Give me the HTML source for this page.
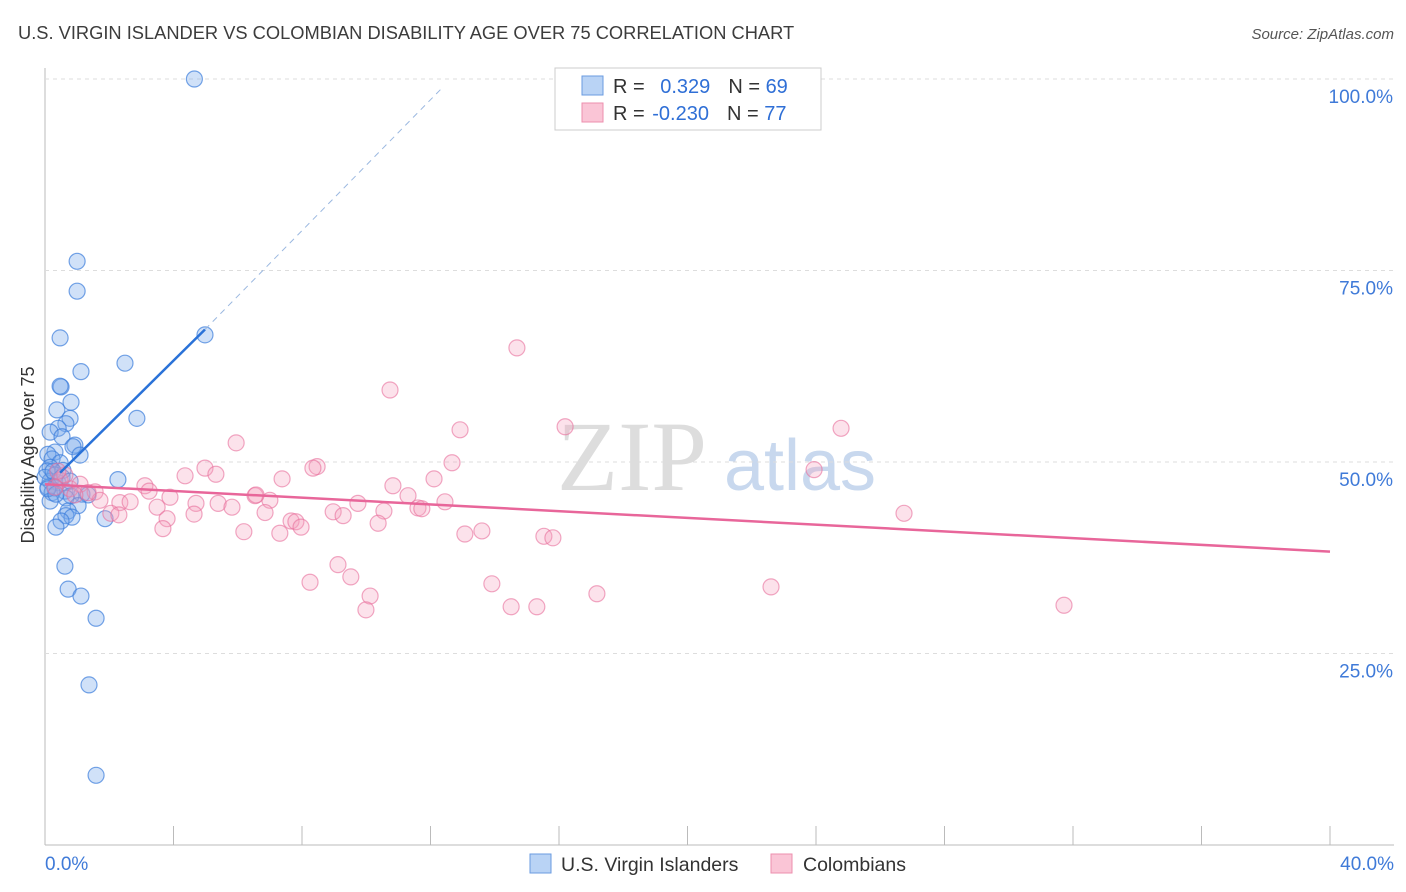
<!DOCTYPE html>
<html><head><meta charset="utf-8"><style>
body{margin:0;background:#fff;font-family:"Liberation Sans",sans-serif;}
#wrap{position:relative;width:1406px;height:892px;overflow:hidden;}
</style></head><body>
<div id="wrap">
<svg id="svg" width="1406" height="892" xmlns="http://www.w3.org/2000/svg">
<text x="18" y="39" font-size="18.3" fill="#3c3c3c">U.S. VIRGIN ISLANDER VS COLOMBIAN DISABILITY AGE OVER 75 CORRELATION CHART</text>
<text x="1394" y="39" font-size="15" fill="#555" text-anchor="end" font-style="italic">Source: ZipAtlas.com</text>
<text x="632" y="490" font-size="100" fill="#ddd" text-anchor="middle" font-family="Liberation Serif,serif">ZIP</text>
<text x="800" y="490" font-size="72" fill="#c8d8ee" text-anchor="middle">atlas</text>
<text transform="translate(34,455) rotate(-90)" font-size="18" fill="#333" text-anchor="middle">Disability Age Over 75</text>
<g id="grid"></g><g id="pts"></g><g id="lines"></g>
<g>
<rect x="555" y="68" width="266" height="62" fill="#fff" stroke="#ccc"/>
<rect x="582" y="76" width="21" height="19" fill="#b9d3f5" stroke="#6a9be0"/>
<rect x="582" y="103" width="21" height="19" fill="#fac5d6" stroke="#ec8fae"/>
<text x="613" y="93" font-size="20" fill="#333">R = <tspan fill="#2f6fd6" dx="10">0.329</tspan><tspan fill="#333" dx="18">N = </tspan><tspan fill="#2f6fd6">69</tspan></text>
<text x="613" y="120" font-size="20" fill="#333">R = <tspan fill="#2f6fd6" dx="2">-0.230</tspan><tspan fill="#333" dx="18">N = </tspan><tspan fill="#2f6fd6">77</tspan></text>
</g>
<g>
<rect x="530" y="854" width="21" height="19" fill="#b9d3f5" stroke="#6a9be0"/>
<text x="561" y="871" font-size="19.5" fill="#333">U.S. Virgin Islanders</text>
<rect x="771" y="854" width="21" height="19" fill="#fac5d6" stroke="#ec8fae"/>
<text x="803" y="871" font-size="19.5" fill="#333">Colombians</text>
</g>
</svg>
</div>
<script>
const xTicks=[0,4,8,12,16,20,24,28,32,36,40];
const yTicks=[25,50,75,100];
const blueX=[4.65,1.0,1.0,0.47,4.98,2.49,1.12,0.5,0.47,0.81,0.37,2.86,0.78,0.65,0.41,0.16,0.53,0.93,0.87,0.31,0.09,1.09,0.22,0.47,0.16,0.56,0.06,0.31,2.27,0.16,0.4,0.09,0.31,0.62,0.22,1.15,1.34,0.81,0.65,0.16,1.03,0.72,0.65,0.84,0.5,1.87,0.34,0.62,0.72,1.12,1.59,1.37,1.59,0.0,0.25,0.53,0.09,0.34,0.78];
const blueY=[100,76.2,72.3,66.2,66.6,62.9,61.8,59.8,59.9,57.8,56.8,55.7,55.7,55.0,54.4,53.9,53.3,52.2,52.0,51.3,51.0,50.9,50.4,49.9,49.3,48.9,48.8,48.3,47.7,47.5,47.3,46.7,46.6,46.2,46.0,45.8,45.7,45.6,45.3,44.9,44.3,43.6,43.0,42.8,42.3,42.6,41.5,36.4,33.4,32.5,29.6,20.9,9.1,48.0,48.8,48.0,46.5,45.8,47.5];
const pinkX=[14.69,10.74,16.19,24.78,12.92,5.95,12.67,8.47,8.34,4.98,23.94,4.36,5.32,12.11,10.83,7.38,1.56,3.11,6.54,11.3,3.24,7.0,6.57,12.45,9.74,1.71,2.33,3.89,4.7,5.39,5.82,8.97,10.55,11.61,11.73,9.28,6.85,2.65,3.49,2.05,2.3,4.64,3.8,26.74,7.66,7.81,7.97,10.37,7.31,6.19,3.67,13.07,13.6,15.53,15.81,9.12,9.52,8.25,13.91,10.12,9.99,14.51,15.31,17.18,22.6,31.72,0.47,0.78,1.09,1.34,0.62,0.93,0.31,0.4];
const pinkY=[64.9,59.4,54.6,54.4,54.2,52.5,49.9,49.4,49.2,49.2,49.0,48.2,48.4,47.8,46.9,47.8,46.1,46.9,45.6,45.6,46.2,45.0,45.7,44.8,44.6,45.0,44.7,45.4,44.6,44.6,44.1,43.5,43.6,44.0,43.9,43.0,43.4,44.8,44.1,43.3,43.1,43.2,42.6,43.3,42.3,42.2,41.5,42.0,40.7,40.9,41.3,40.6,41.0,40.3,40.1,36.6,35.0,34.3,34.1,32.5,30.7,31.1,31.1,32.8,33.7,31.3,47.6,46.5,47.1,46.0,48.3,45.7,46.7,48.8];
const X0=45,X1=1330,Y0=845,Yh=79;
const xs=v=>X0+(X1-X0)*v/40, ys=v=>Y0-(Y0-Yh)*v/100;
const NS="http://www.w3.org/2000/svg";
function mk(tag,at,parent){const e=document.createElementNS(NS,tag);for(const k in at)e.setAttribute(k,at[k]);document.getElementById(parent).appendChild(e);return e;}
let e=mk('line',{x1:X0,y1:68,x2:X0,y2:Y0,stroke:'#bbb'},'grid');


e=mk('line',{x1:X0,y1:Y0,x2:1394,y2:Y0,stroke:'#bbb'},'grid');


yTicks.forEach(t=>{
 let g=mk('line',{x1:X0,y1:ys(t),x2:1394,y2:ys(t),stroke:'#ddd','stroke-dasharray':'4,4'},'grid');
 
 
 let l=mk('text',{x:1393,y:ys(t)+24,'font-size':19,fill:'#3f7ad8','text-anchor':'end'},'grid');
 l.textContent=t.toFixed(1)+'%';
 
 
});
xTicks.forEach(t=>{
 let g=mk('line',{x1:xs(t),y1:826,x2:xs(t),y2:Y0,stroke:'#bbb'},'grid');
 
 
});
[[0,'start',45],[40,'end',1394]].forEach(([t,a,x])=>{
 let l=mk('text',{x:x,y:870,'font-size':19,fill:'#3f7ad8','text-anchor':a},'grid');
 l.textContent=t.toFixed(1)+'%';
 
 
});
blueX.forEach((v,i)=>{
 let c=mk('circle',{cx:xs(v),cy:ys(blueY[i]),r:8,fill:'rgba(120,170,235,0.35)',stroke:'rgba(60,125,220,0.7)','stroke-width':1.2},'pts');
 
 
});
pinkX.forEach((v,i)=>{
 let c=mk('circle',{cx:xs(v),cy:ys(pinkY[i]),r:8,fill:'rgba(245,160,190,0.3)',stroke:'rgba(232,110,155,0.6)','stroke-width':1.2},'pts');
 
 
});
e=mk('line',{x1:xs(0.47),y1:ys(48.6),x2:xs(4.98),y2:ys(67.3),stroke:'#2a72d8','stroke-width':2.5},'lines');


e=mk('line',{x1:xs(4.98),y1:ys(67.3),x2:xs(12.4),y2:ys(99),stroke:'#9bb8e0','stroke-width':1,'stroke-dasharray':'6,5'},'lines');


e=mk('line',{x1:xs(0),y1:ys(47.1),x2:xs(40),y2:ys(38.3),stroke:'#e8669a','stroke-width':2.5},'lines');


</script>
</body></html>
